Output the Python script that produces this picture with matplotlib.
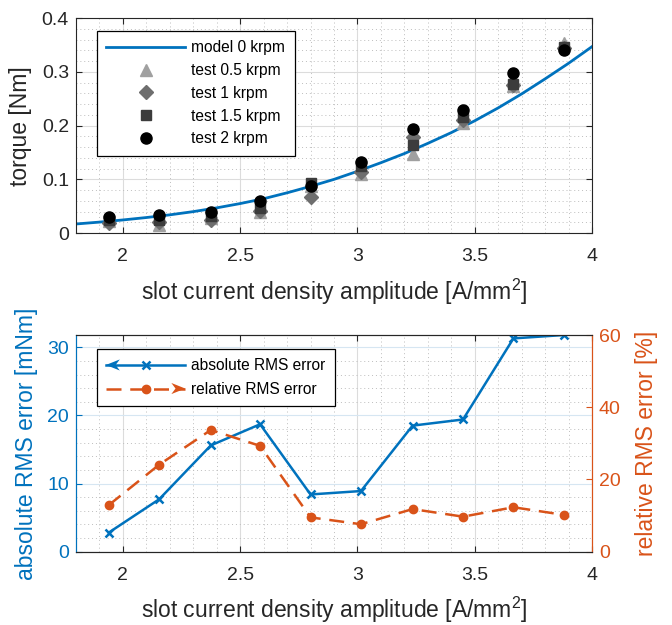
import numpy as np
import matplotlib
matplotlib.use("Agg")
import matplotlib.pyplot as plt
from matplotlib.ticker import MultipleLocator
from matplotlib.legend_handler import HandlerLine2D
from matplotlib.patches import Polygon

plt.rcParams['font.family'] = ['Liberation Sans', 'DejaVu Sans']
plt.rcParams['mathtext.fontset'] = 'custom'
plt.rcParams['mathtext.rm'] = 'Liberation Sans'

# current density of the test points [A/mm^2]
current = [1.94, 2.155, 2.375, 2.585, 2.80, 3.015, 3.235, 3.45, 3.665, 3.88]

# measured torque [Nm]
test_05 = [0.022, 0.016, 0.028, 0.039, 0.088, 0.110, 0.148, 0.204, 0.274, 0.353]
test_1 = [0.019, 0.020, 0.025, 0.042, 0.068, 0.113, 0.179, 0.210, 0.275, 0.345]
test_15 = [0.025, 0.025, 0.032, 0.046, 0.094, 0.124, 0.164, 0.216, 0.277, 0.347]
test_2 = [0.030, 0.034, 0.040, 0.059, 0.087, 0.132, 0.194, 0.229, 0.297, 0.340]

# model curve
model_x = [1.8, 1.9, 2.0, 2.1, 2.2, 2.3, 2.4, 2.5, 2.6, 2.7, 2.8, 2.9,
           3.0, 3.1, 3.2, 3.3, 3.4, 3.5, 3.6, 3.7, 3.8, 3.9, 4.0]
model_t = [0.017, 0.0205, 0.0245, 0.029, 0.034, 0.040, 0.047, 0.055, 0.064,
           0.075, 0.087, 0.100, 0.115, 0.131, 0.148, 0.167, 0.187, 0.209,
           0.233, 0.259, 0.287, 0.316, 0.347]

# errors
abs_err = [2.8, 7.7, 15.6, 18.7, 8.4, 8.9, 18.5, 19.4, 31.3, 31.8]
rel_err = [12.9, 24.1, 33.7, 29.3, 9.5, 7.6, 11.8, 9.7, 12.3, 10.2]

blue = '#0072BD'
orange = '#D95319'
dark = '#262626'
tick_fs = 14
label_fs = 16.5
leg_fs = 11.2
xlab = 'slot current density amplitude [A/mm$^2$]'


class ArrowLine(HandlerLine2D):
    # legend line with an arrow head on one end
    def __init__(self, side, **kw):
        super().__init__(**kw)
        self.side = side

    def create_artists(self, legend, orig_handle, xdescent, ydescent,
                       width, height, fontsize, trans):
        arts = super().create_artists(legend, orig_handle, xdescent, ydescent,
                                      width, height, fontsize, trans)
        y = (height - ydescent) / 2
        hl, hw = 10, 4
        if self.side == 'left':
            tip = -xdescent
            base = tip + hl
            notch = base - 0.3 * hl
        else:
            tip = -xdescent + width
            base = tip - hl
            notch = base + 0.3 * hl
        poly = Polygon([[tip, y], [base, y + hw], [notch, y], [base, y - hw]],
                       closed=True, facecolor=orig_handle.get_color(),
                       edgecolor='none', transform=trans)
        return arts + [poly]


def style_grid(ax, ymin, hcolor='#dcdcdc'):
    ax.xaxis.set_minor_locator(MultipleLocator(0.1))
    ax.yaxis.set_minor_locator(MultipleLocator(ymin))
    ax.grid(which='major', axis='x', color='#dcdcdc', lw=0.8)
    ax.grid(which='major', axis='y', color=hcolor, lw=0.8)
    ax.grid(which='minor', color='#bdbdbd', ls=(0, (1, 3)), lw=0.7)
    ax.set_axisbelow(True)
    ax.tick_params(which='minor', length=0)


fig = plt.figure(figsize=(6.72, 6.25), dpi=100)

# top: torque
ax1 = fig.add_axes([0.113, 0.627, 0.768, 0.344])
ax1.plot(model_x, model_t, color=blue, lw=2, label='model 0 krpm')
ax1.plot(current, test_05, '^', color='#a0a0a0', ms=9, ls='none', label='test 0.5 krpm')
ax1.plot(current, test_1, 'D', color='#6e6e6e', ms=7, ls='none', label='test 1 krpm')
ax1.plot(current, test_15, 's', color='#3c3c3c', ms=7.7, ls='none', label='test 1.5 krpm')
ax1.plot(current, test_2, 'o', color='black', ms=8, ls='none', label='test 2 krpm')
ax1.set_xlim(1.8, 4)
ax1.set_ylim(0, 0.4)
ax1.set_xticks([2, 2.5, 3, 3.5, 4])
ax1.set_xticklabels(['2', '2.5', '3', '3.5', '4'])
ax1.set_yticks([0, 0.1, 0.2, 0.3, 0.4])
ax1.set_yticklabels(['0', '0.1', '0.2', '0.3', '0.4'])
style_grid(ax1, 0.02)
ax1.tick_params(which='major', direction='in', top=True, right=True,
                length=4, labelsize=tick_fs, colors=dark)
ax1.tick_params(axis='x', pad=11)
ax1.tick_params(axis='y', pad=5)
ax1.set_xlabel(xlab, fontsize=label_fs, color=dark, labelpad=8)
ax1.set_ylabel('torque [Nm]', fontsize=label_fs, color=dark, labelpad=7)
for s in ax1.spines.values():
    s.set_color(dark)
leg1 = ax1.legend(loc='upper left', bbox_to_anchor=(0.04, 0.94), borderaxespad=0,
                  fontsize=leg_fs, handlelength=5.1, handletextpad=0.4,
                  fancybox=False, edgecolor='black', framealpha=1,
                  labelspacing=0.5, borderpad=0.6)
leg1.get_frame().set_linewidth(0.9)

# bottom: errors
ax2 = fig.add_axes([0.113, 0.1173, 0.768, 0.3467])
ax3 = ax2.twinx()
l_abs, = ax2.plot(current, abs_err, color=blue, lw=1.8, marker='x', ms=6, mew=1.8)
l_rel, = ax3.plot(current, rel_err, color=orange, lw=1.8, ls=(0, (6, 3.5)),
                  marker='o', ms=6)
ax2.set_xlim(1.8, 4)
ax2.set_ylim(0, 31.8)
ax3.set_ylim(0, 60)
ax2.set_xticks([2, 2.5, 3, 3.5, 4])
ax2.set_xticklabels(['2', '2.5', '3', '3.5', '4'])
ax2.set_yticks([0, 10, 20, 30])
ax3.set_yticks([0, 20, 40, 60])
style_grid(ax2, 2, hcolor='#d6e6f2')
ax2.tick_params(which='major', direction='in', top=True, length=4, labelsize=tick_fs)
ax2.tick_params(axis='y', colors=blue, pad=5)
ax2.tick_params(axis='x', colors=dark, pad=11)
ax3.tick_params(which='major', direction='in', length=4, labelsize=tick_fs,
                colors=orange, pad=5)
ax2.set_xlabel(xlab, fontsize=label_fs, color=dark, labelpad=8)
ax2.set_ylabel('absolute RMS error [mNm]', fontsize=label_fs, color=blue, labelpad=7)
ax3.set_ylabel('relative RMS error [%]', fontsize=label_fs, color=orange, labelpad=10)
for a in (ax2, ax3):
    a.spines['left'].set_color(blue)
    a.spines['right'].set_color(orange)
    a.spines['top'].set_color(dark)
    a.spines['bottom'].set_color(dark)
leg2 = ax3.legend([l_abs, l_rel], ['absolute RMS error', 'relative RMS error'],
                  handler_map={l_abs: ArrowLine('left'), l_rel: ArrowLine('right')},
                  loc='upper left', bbox_to_anchor=(0.04, 0.935), borderaxespad=0,
                  fontsize=leg_fs, handlelength=5.1, handletextpad=0.4,
                  fancybox=False, edgecolor='black', framealpha=1,
                  labelspacing=0.55, borderpad=0.6)
leg2.get_frame().set_linewidth(0.9)

fig.savefig('out.png', dpi=100)
